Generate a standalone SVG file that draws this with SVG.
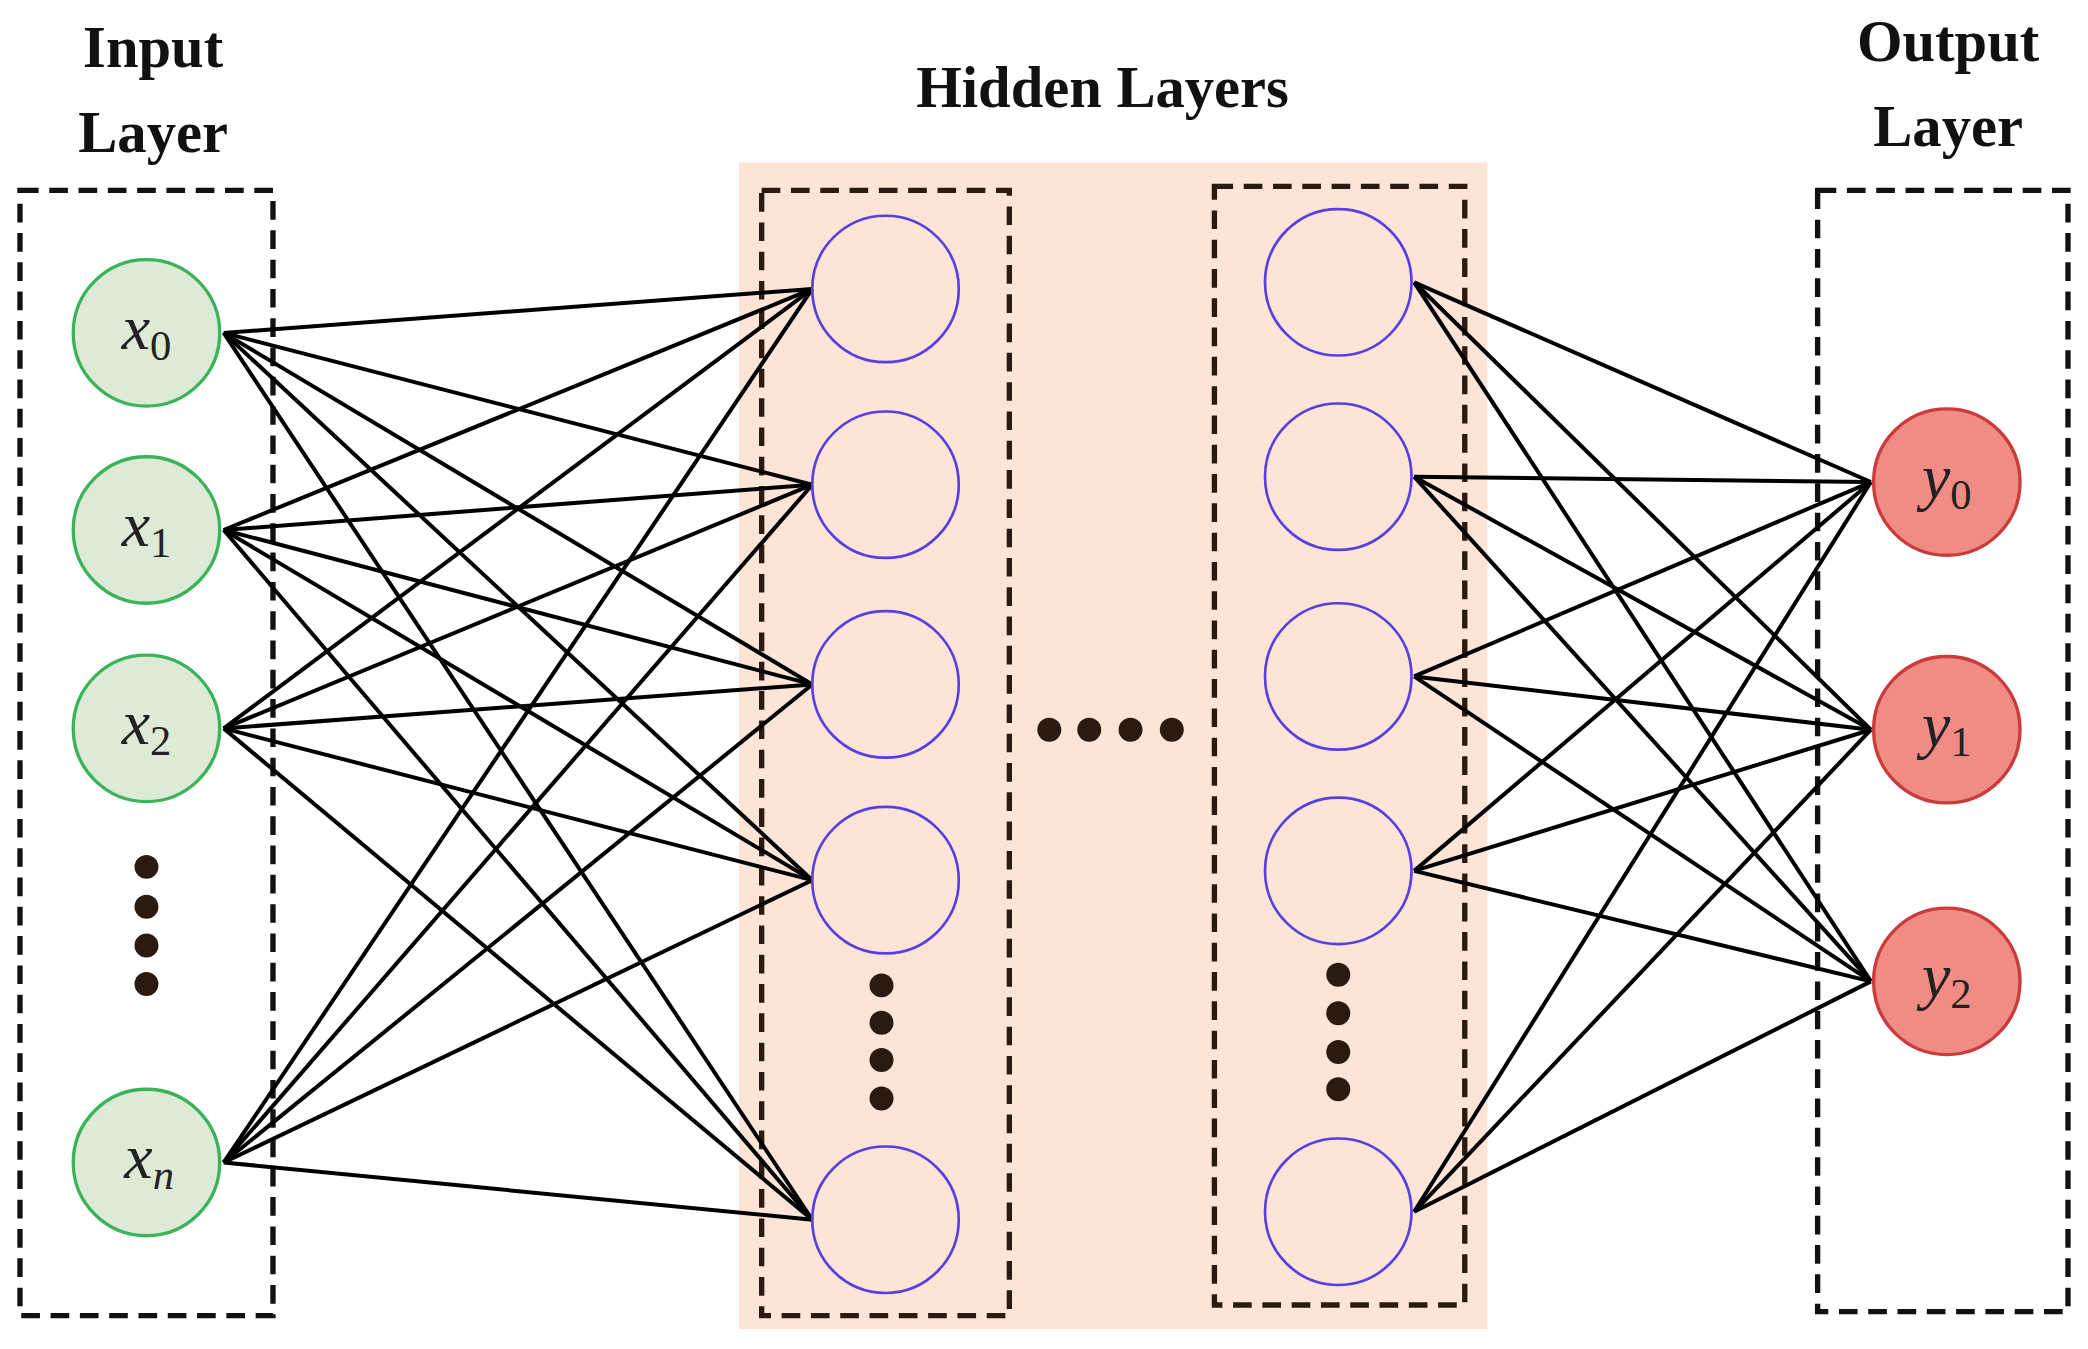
<svg xmlns="http://www.w3.org/2000/svg" width="2088" height="1349" viewBox="0 0 2088 1349">
<style>
.t{font-family:"Liberation Serif",serif;font-weight:bold;font-size:44px;fill:#111;text-anchor:middle}
.v{font-family:"Liberation Serif",serif;font-style:italic;font-size:48px;fill:#222;text-anchor:middle}
.s{font-size:32px;font-style:normal}
.box{fill:none;stroke:#111;stroke-width:4;stroke-dasharray:14 8}
.in{fill:#dcead6;stroke:#3cb35a;stroke-width:2.5}
.out{fill:#f08c84;stroke:#cc3b3b;stroke-width:2.5}
.hid{fill:none;stroke:#5a3fe0;stroke-width:2}
.c line{stroke:#000;stroke-width:3}
.d{fill:#2a1a10}
</style>
<rect width="2088" height="1349" fill="#fff"/>
<g transform="scale(1.3316)">
<rect x="555" y="122" width="562" height="876" fill="#fce4d6"/>
<text class="t" x="115" y="50">Input</text>
<text class="t" x="115" y="114">Layer</text>
<text class="t" x="828" y="80">Hidden Layers</text>
<text class="t" x="1463" y="46">Output</text>
<text class="t" x="1463" y="110">Layer</text>
<rect class="box" x="15" y="143" width="190" height="845"/>
<rect class="box" x="572" y="143" width="186" height="845" style="stroke:#2a1a10"/>
<rect class="box" x="912" y="140" width="188" height="840" style="stroke:#2a1a10"/>
<rect class="box" x="1365" y="143" width="188" height="842"/>
<g id="connectors" class="c">
<line x1="168" y1="250" x2="610" y2="217"/><line x1="168" y1="250" x2="610" y2="364"/><line x1="168" y1="250" x2="610" y2="514"/><line x1="168" y1="250" x2="610" y2="661"/><line x1="168" y1="250" x2="610" y2="916"/>
<line x1="168" y1="398" x2="610" y2="217"/><line x1="168" y1="398" x2="610" y2="364"/><line x1="168" y1="398" x2="610" y2="514"/><line x1="168" y1="398" x2="610" y2="661"/><line x1="168" y1="398" x2="610" y2="916"/>
<line x1="168" y1="547" x2="610" y2="217"/><line x1="168" y1="547" x2="610" y2="364"/><line x1="168" y1="547" x2="610" y2="514"/><line x1="168" y1="547" x2="610" y2="661"/><line x1="168" y1="547" x2="610" y2="916"/>
<line x1="168" y1="873" x2="610" y2="217"/><line x1="168" y1="873" x2="610" y2="364"/><line x1="168" y1="873" x2="610" y2="514"/><line x1="168" y1="873" x2="610" y2="661"/><line x1="168" y1="873" x2="610" y2="916"/>
<line x1="1062" y1="212" x2="1405" y2="362"/><line x1="1062" y1="212" x2="1405" y2="548"/><line x1="1062" y1="212" x2="1405" y2="737"/>
<line x1="1062" y1="358" x2="1405" y2="362"/><line x1="1062" y1="358" x2="1405" y2="548"/><line x1="1062" y1="358" x2="1405" y2="737"/>
<line x1="1062" y1="508" x2="1405" y2="362"/><line x1="1062" y1="508" x2="1405" y2="548"/><line x1="1062" y1="508" x2="1405" y2="737"/>
<line x1="1062" y1="654" x2="1405" y2="362"/><line x1="1062" y1="654" x2="1405" y2="548"/><line x1="1062" y1="654" x2="1405" y2="737"/>
<line x1="1062" y1="910" x2="1405" y2="362"/><line x1="1062" y1="910" x2="1405" y2="548"/><line x1="1062" y1="910" x2="1405" y2="737"/>
</g>
<g id="x0"><circle class="in" cx="110" cy="250" r="55"/><text class="v" x="110" y="262">x<tspan class="s" dy="8">0</tspan></text></g>
<g id="x1"><circle class="in" cx="110" cy="398" r="55"/><text class="v" x="110" y="410">x<tspan class="s" dy="8">1</tspan></text></g>
<g id="x2"><circle class="in" cx="110" cy="547" r="55"/><text class="v" x="110" y="559">x<tspan class="s" dy="8">2</tspan></text></g>
<g id="xn"><circle class="in" cx="110" cy="873" r="55"/><text class="v" x="112" y="885">x<tspan class="s" dy="8" style="font-style:italic">n</tspan></text></g>
<g class="d"><circle cx="110" cy="651" r="9"/><circle cx="110" cy="681" r="9"/><circle cx="110" cy="710" r="9"/><circle cx="110" cy="739" r="9"/>
<circle cx="662" cy="740" r="9"/><circle cx="662" cy="768" r="9"/><circle cx="662" cy="796" r="9"/><circle cx="662" cy="825" r="9"/>
<circle cx="1005" cy="732" r="9"/><circle cx="1005" cy="761" r="9"/><circle cx="1005" cy="790" r="9"/><circle cx="1005" cy="818" r="9"/>
<circle cx="788" cy="548" r="9"/><circle cx="818" cy="548" r="9"/><circle cx="849" cy="548" r="9"/><circle cx="880" cy="548" r="9"/></g>
<g id="h1_0"><circle class="hid" cx="665" cy="217" r="55"/></g>
<g id="h1_1"><circle class="hid" cx="665" cy="364" r="55"/></g>
<g id="h1_2"><circle class="hid" cx="665" cy="514" r="55"/></g>
<g id="h1_3"><circle class="hid" cx="665" cy="661" r="55"/></g>
<g id="h1_4"><circle class="hid" cx="665" cy="916" r="55"/></g>
<g id="h2_0"><circle class="hid" cx="1005" cy="212" r="55"/></g>
<g id="h2_1"><circle class="hid" cx="1005" cy="358" r="55"/></g>
<g id="h2_2"><circle class="hid" cx="1005" cy="508" r="55"/></g>
<g id="h2_3"><circle class="hid" cx="1005" cy="654" r="55"/></g>
<g id="h2_4"><circle class="hid" cx="1005" cy="910" r="55"/></g>
<g id="y0"><circle class="out" cx="1462" cy="362" r="55"/><text class="v" x="1462" y="374">y<tspan class="s" dy="8">0</tspan></text></g>
<g id="y1"><circle class="out" cx="1462" cy="548" r="55"/><text class="v" x="1462" y="560">y<tspan class="s" dy="8">1</tspan></text></g>
<g id="y2"><circle class="out" cx="1462" cy="737" r="55"/><text class="v" x="1462" y="749">y<tspan class="s" dy="8">2</tspan></text></g>
</g>
</svg>
